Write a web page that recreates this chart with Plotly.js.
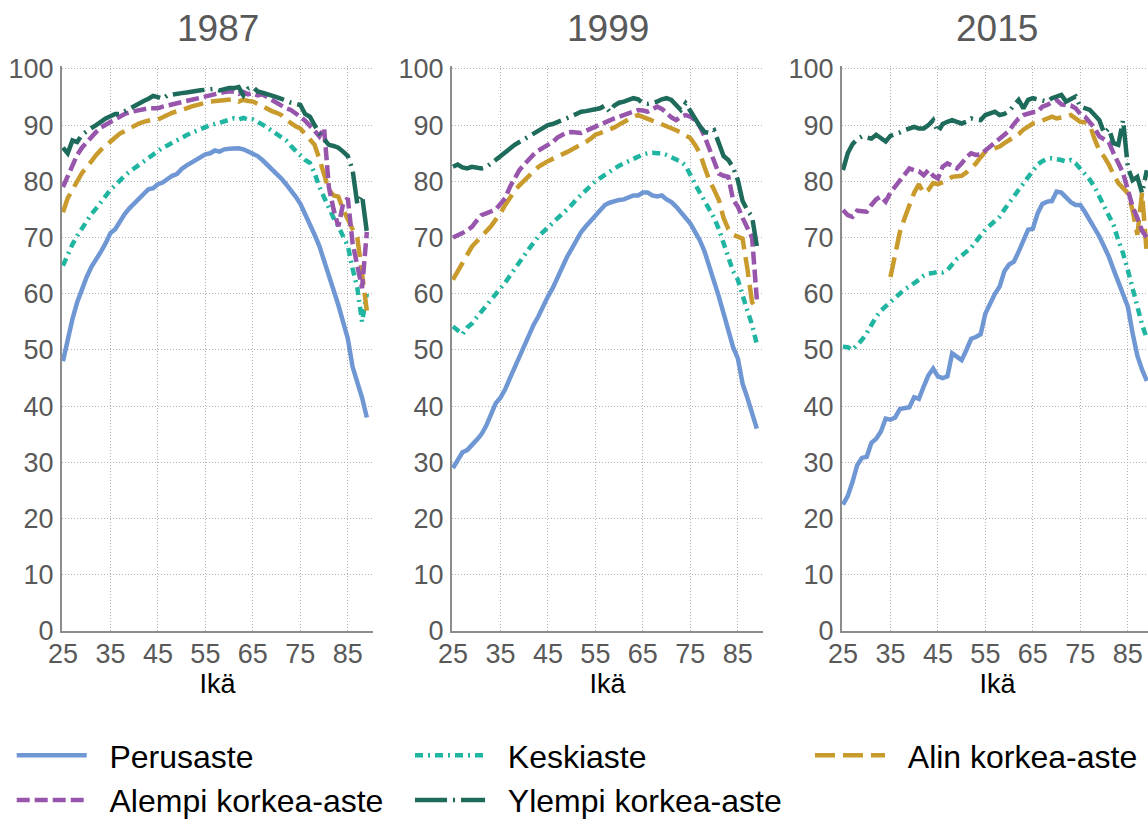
<!DOCTYPE html>
<html>
<head>
<meta charset="utf-8">
<script src="https://cdn.plot.ly/plotly-3.0.1.min.js"></script>
<style>
html,body{margin:0;padding:0;overflow:hidden;background:#fff;width:1148px;height:821px;}
#chart{width:1160px;height:821px;}
</style>
</head>
<body>
<div id="chart"></div>
<script>
// ---- data ----
const ages = [25,26,27,28,29,30,31,32,33,34,35,36,37,38,39,40,41,42,43,44,45,46,47,48,49,50,51,52,53,54,55,56,57,58,59,60,61,62,63,64,65,66,67,68,69,70,71,72,73,74,75,76,77,78,79,80,81,82,83,84,85,86,87,88,89];
const years = ["1987","1999","2015"];
const seriesNames = ["Perusaste","Keskiaste","Alin korkea-aste","Alempi korkea-aste","Ylempi korkea-aste"];

const perus1987 = [48,52,55.5,58.5,61,63,64.8,66,67.5,69,70.8,71.5,73,74.2,75.2,76,76.8,77.8,78.6,78.8,79.5,79.8,80.5,81,81.3,82.2,82.8,83.3,83.8,84.3,84.8,85,85.5,85.3,85.7,85.8,85.9,85.9,85.7,85.3,85,84.5,83.8,83,82.2,81.3,80.5,79.5,78.5,77.3,76,74.3,72.5,70.5,68.5,66,63.5,61,58,55,52,47,44.5,41.5,38];
const kesk1987 = [65,67,68.8,70.3,71.6,73,74.2,75.2,76.3,77.5,78.5,79.3,80.2,81,81.7,82.3,83,83.6,84.2,84.8,85.5,86,86.4,86.9,87.3,87.8,88.2,88.6,89,89.3,89.6,90,90.2,90.5,90.8,91,91.2,91,91.3,91,91,90.6,90.2,89.6,89,88.5,88,87.3,86.3,85.5,84.5,83.8,83.3,81.5,79,77,75.5,73.5,72,70,68.5,64.5,61,55,60];
const alin1987 = [74.5,77,78.5,80,81.5,82.5,83.7,84.7,85.6,86.4,87.1,87.8,88.5,89,89.5,89.8,90.3,90.6,90.9,91,91,91.5,91.8,92.2,92.4,92.6,93,93.3,93.6,93.8,94,94.2,94.3,94.5,94.6,94.5,94.6,94.2,94.5,94.3,94.2,93.8,93.3,93,92.5,92.2,91.8,91,90.3,89.8,89.4,88.5,87.5,86.5,84,81,78.5,77.5,77.3,75,73,71.5,70,63,57];
const alempi1987 = [79,81,83,84.7,86,87,88,88.8,89.6,90.1,90.6,91.1,91.5,92,92.3,92.5,92.8,93,93,93,93,93.3,93.5,93.7,93.9,94.2,94.4,94.6,94.8,95,95.1,95.4,95.6,95.8,95.9,96,96,95.6,95.9,95.5,95.7,95.3,95.5,95,94.5,94,93.3,93,92.7,92.2,91.5,90.8,90,89,88,89.5,79,75,72,76,77,69,65,61,71];
const ylempi1987 = [86,85,87.3,87,88.3,89,89.5,90,90.7,91.2,91.6,92,92,92.5,93,93.5,94,94.3,94.7,95.2,95,94.7,95.3,95.5,95.6,95.7,95.8,96,96,96.2,96.3,96.4,96.5,96.2,96.5,96.6,96.6,96.8,95.3,96.5,96.8,96,95.8,95.6,95.2,95,94.7,94.3,94,93.8,93.6,92,91.5,90,88.5,87.5,86.5,86.3,86,85.3,84.5,82,76,77.5,71];

const perus1999 = [29,30.5,31.8,32.2,33,34,35,36.5,38.5,40.5,41.5,43,45,47,49,51,53,54.5,56,58,59.5,61,63,64.5,66.5,68,69.5,71,72,73,74,75,75.8,76.2,76.5,76.7,76.8,77.2,77.5,77.5,78,78,77.5,77.3,77.5,76.8,76.3,75.5,74.5,73.3,72.5,71,69.5,67.5,65,62.5,59.5,56.5,53.5,50.5,48.5,44,41.5,39,36];
const kesk1999 = [54.2,53.5,52.8,54,54.7,55.8,56.8,57.7,59,60,61,62,63.2,64.5,65.5,66.8,68,69.2,70.2,71,71.8,72.7,73.3,74.2,75,75.8,76.8,77.6,78.5,79.3,80,80.6,81.2,81.7,82.3,82.8,83.2,83.6,84,84.5,84.8,85,85.1,85,85,84.7,84.3,84,83.5,82.8,81,79.5,78,76.5,75,73.5,71.5,69,66,64,62.5,59.5,57,54.5,51];
const alin1999 = [62.5,64,65.4,67,68.4,69.3,70.2,71,72,73.2,74.3,75.8,77.2,78.3,79.3,80.2,81,81.8,82.6,83.2,83.6,84,84.3,84.8,85.2,85.6,86,86.4,87,87.6,88.3,88.6,88.9,89.1,89.6,90.1,90.6,91,91.5,91.8,91.4,91,90.8,90.5,90.2,89.8,89.5,89.1,88.7,88.2,87.7,86.5,85,82.5,80.2,78.5,76.7,73.5,71.5,70.5,70.2,69.8,64.5,58.5,57.5];
const alempi1999 = [70,70.3,70.8,71.3,71.9,73,74,74.3,74.6,75,76,77,79,80.5,82,83,84,84.8,85.5,86,86.5,87,87.8,88.3,88.7,88.8,88.6,88.6,89,89.4,89.7,90.1,90.5,90.9,91.2,91.5,91.8,92.2,92.6,92.7,92.6,92.4,92.8,93.3,92.9,92.1,91.4,90.9,91.5,91.8,91.5,90.9,89.8,88,85.8,83.5,81.4,81,80.8,76.7,75.5,73.5,71.5,70,59];
const ylempi1999 = [82.6,83,82.5,82.3,82.6,82.5,82.3,82.5,83.2,83.8,84.5,85.3,86,86.5,87,87.5,88,88.6,89.1,89.5,90,90.2,90.5,91,91.3,91.6,92,92.4,92.5,92.6,92.7,93,93.5,92.4,93.5,94,94.2,94.5,94.8,94.6,93.9,93.8,93.9,94.2,94.6,94.8,94.5,93.6,92.7,93.9,92.5,90.9,89.8,88.8,88.6,89.1,86.5,84.5,83.8,82.5,80.2,76.5,74.9,73.7,68.5];

const perus2015 = [22.5,24,26.5,29.5,30.8,31,33.5,34.2,35.5,37.8,37.6,38,39.5,39.7,39.8,41.6,41.3,43.5,45.5,46.7,45.3,45,45.3,49.4,48.8,48.2,50,52,52.3,52.8,56.5,58.5,60,61.3,64,65.2,65.7,67.5,69.5,71.4,71.6,74.3,76,76.4,76.5,78.2,78,77.2,76.3,75.8,75.8,74.5,73.1,71.6,70.2,68.4,66.6,64.3,61.9,59.8,57.7,53,49,46.5,44.5];
const kesk2015 = [50.6,50.5,50,50.8,51.8,53,54.6,55.9,57,57.8,58.6,59.4,60.2,60.8,61.3,61.8,62.5,63.2,63.6,63.7,63.9,63.8,64.2,65.2,66.2,66.8,67.6,68.2,69.3,70.5,71.4,72.2,73,73.7,75,76.3,77.3,78.5,79.7,80.8,81.8,83,83.6,84,84.1,84,83.8,83.5,83.8,83.2,82.3,81.3,80.3,79,77.3,75.5,73.7,72.2,69.5,67.2,64.2,61,57.5,54.5,52];
const alin2015 = [null,null,null,null,null,null,null,null,null,null,63,67,71,73.5,75.8,78,79.5,77.9,78.5,79.7,79.5,79.8,80.2,80.8,80.8,81,81.6,82.3,83.2,84.3,85.3,85.6,85.9,86.2,86.8,87.3,87.7,88.4,89.2,89.7,90.3,90.5,90.8,91.2,91.5,91.2,91.3,91.5,91.8,91.2,90.6,90.5,90,87.5,85.5,84.4,83,81.2,79.7,78.8,77.9,74.9,70.5,78,67];
const alempi2015 = [74.9,74,73.7,74.8,74.7,74.6,75.8,76.8,77.3,76.4,78,79.1,80.3,81.5,82.3,82,81.8,81.1,82,81,80.5,82.6,83.2,82.8,82.3,83.2,84.3,85,84.7,84.8,85.5,86.2,86.8,87.6,88.3,89,90.2,91.2,91.8,92.1,92.3,92.4,93.3,93.6,94,94.5,93.7,93.6,93.5,93,92,91.5,90.6,89.5,88,87.6,87,85,83.4,81.5,78.5,75.5,73.5,71.2,70];
const ylempi2015 = [82,85,86.6,87.5,88,87.8,87.6,88.3,87.7,87.1,88.1,88.3,88.7,89.1,89.5,89.7,89.4,89.4,90,90.9,88.8,90.2,90.6,90.9,90.6,90.3,90.6,91.2,91,90.9,91.8,92.2,92.4,91.8,92,92.5,93.5,94.5,93,94.5,94.8,94.6,94.4,94.2,94.8,95.1,95.4,94.2,94.7,95.1,93.3,93,92.7,91.8,90.9,88.6,89.4,86.8,86.5,90.9,82.5,80.2,80.8,77.9,82];

const panelData = [
  [perus1987, kesk1987, alin1987, alempi1987, ylempi1987],
  [perus1999, kesk1999, alin1999, alempi1999, ylempi1999],
  [perus2015, kesk2015, alin2015, alempi2015, ylempi2015]
];
const yTicks = [0,10,20,30,40,50,60,70,80,90,100];
const xTicks = [25,35,45,55,65,75,85];

// ---- styles ----
const W = 1160, H = 821;
const colors = ["#6f97d3","#1fb5a0","#c99a2c","#9755ab","#1e6a5b"];
const dashes = ["solid","8px,5px,2px,5px","20px,8px","13px,5px","32px,6px,2px,6px"];
const legendIds = ["legend","legend2","legend3","legend","legend2"];
const font = "Liberation Sans, Arial, sans-serif";
const grey = "#595959";
const xDomains = [[62/W, 373/W],[452/W, 763/W],[842/W, 1153/W]];
const yDomain = [(H-631)/H, (H-65.6)/H];

const traces = [];
panelData.forEach((series, p) => {
  series.forEach((vals, s) => {
    traces.push({
      type: "scatter", mode: "lines",
      x: ages, y: vals,
      name: "\u00a0\u00a0" + seriesNames[s],
      legendgroup: seriesNames[s],
      legend: legendIds[s],
      showlegend: p === 0,
      connectgaps: false,
      xaxis: p === 0 ? "x" : "x" + (p+1),
      yaxis: p === 0 ? "y" : "y" + (p+1),
      line: {color: colors[s], width: 4.5, dash: dashes[s]},
      hoverinfo: "x+y+name"
    });
  });
});

const legendBase = (xpx) => ({
  x: xpx/W, y: 1 - 728/H, xanchor: "left", yanchor: "top", orientation: "v",
  itemwidth: 70, font: {size: 32, color: "#000", family: font},
  bgcolor: "rgba(0,0,0,0)", tracegroupgap: 0
});

const layout = {
  width: W, height: H,
  margin: {l: 0, r: 0, t: 0, b: 0, autoexpand: false},
  paper_bgcolor: "#fff", plot_bgcolor: "#fff",
  font: {family: font, color: grey},
  annotations: [],
  legend: legendBase(11.7),
  legend2: legendBase(410),
  legend3: legendBase(810)
};

for (let p = 0; p < 3; p++) {
  const xa = p === 0 ? "xaxis" : "xaxis" + (p+1);
  const ya = p === 0 ? "yaxis" : "yaxis" + (p+1);
  layout[xa] = {
    domain: xDomains[p], range: [24.8, 90.3],
    anchor: p === 0 ? "y" : "y" + (p+1),
    tickmode: "array", tickvals: xTicks, ticktext: xTicks.map(String),
    showgrid: true, gridcolor: "#b4b4b4", griddash: "1px,2px", gridwidth: 1,
    showline: true, linecolor: "#8c8c8c", linewidth: 2,
    ticks: "", ticklabelstandoff: -2,
    tickfont: {size: 27, color: grey, family: font},
    zeroline: false, fixedrange: true, automargin: false,
    title: {text: "Ikä", font: {size: 27, color: "#000", family: font}, standoff: 2}
  };
  layout[ya] = {
    domain: yDomain, range: [0, 100.6],
    anchor: p === 0 ? "x" : "x" + (p+1),
    tickmode: "array", tickvals: yTicks, ticktext: yTicks.map(String),
    showgrid: true, gridcolor: "#b4b4b4", griddash: "1px,2px", gridwidth: 1,
    showline: true, linecolor: "#8c8c8c", linewidth: 2,
    ticks: "", ticklabelstandoff: 1,
    tickfont: {size: 27, color: grey, family: font},
    zeroline: false, fixedrange: true, automargin: false
  };
  layout.annotations.push({
    text: years[p], xref: "paper", yref: "paper",
    x: (xDomains[p][0] + xDomains[p][1]) / 2, y: 1 - 29/H,
    xanchor: "center", yanchor: "middle", showarrow: false,
    font: {size: 37, color: grey, family: font}
  });
}

Plotly.newPlot("chart", traces, layout, {displayModeBar: false, staticPlot: true});
</script>
</body>
</html>
